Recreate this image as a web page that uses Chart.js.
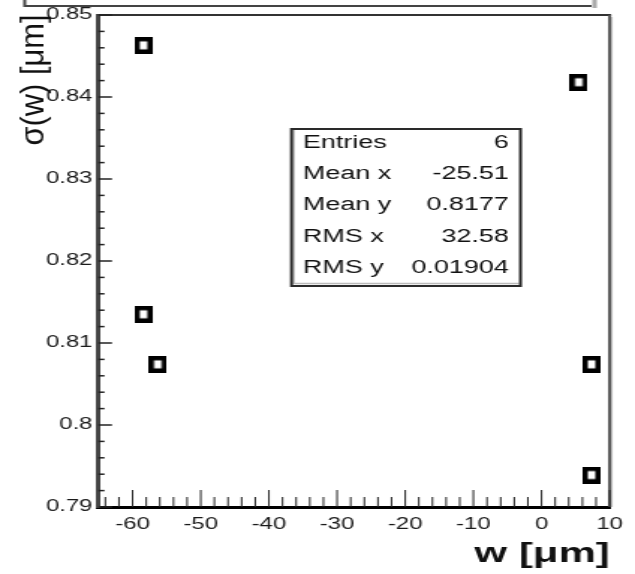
<!DOCTYPE html>
<html>
<head>
<meta charset="utf-8">
<script src="https://cdn.jsdelivr.net/npm/chart.js@4.4.0/dist/chart.umd.min.js"></script>
<style>
  html, body { margin: 0; padding: 0; background: #fff; overflow: hidden; }
  #plot { position: absolute; left: 0; top: 0; width: 424px; height: 574px;
          transform: scaleX(1.4976); transform-origin: 0 0; }
</style>
</head>
<body>
<canvas id="plot" width="424" height="574"></canvas>
<script>
'use strict';
// data
let xTicks = [-60, -50, -40, -30, -20, -10, 0, 10];
let yTicks = [0.79, 0.8, 0.81, 0.82, 0.83, 0.84, 0.85];
let wValues = [-58.4, -58.4, -56.3, 5.46, 7.33, 7.33];
let sigmaValues = [0.8463, 0.8135, 0.8074, 0.8418, 0.8074, 0.7939];
let statLabels = ['Entries', 'Mean x', 'Mean y', 'RMS x', 'RMS y'];
let statValues = ['6', '-25.51', '0.8177', '32.58', '0.01904'];
let xTitle = 'w [\u03bcm]';
let yTitle = '\u03c3(w) [\u03bcm]';

// canvas is stretched sideways by css, like the original picture
let stretch = 635 / 424;
let font = 'Liberation Sans';

// open square marker
function makeMarker(){
  let c = document.createElement('canvas');
  c.width = 12;
  c.height = 17;
  let g = c.getContext('2d');
  g.fillStyle = '#000';
  g.fillRect(0, 0, 12, 17);
  g.fillStyle = '#fff';
  g.fillRect(3.5, 4.5, 5, 8);
  return c;
}

function line(ctx, x1, y1, x2, y2){
  ctx.beginPath();
  ctx.moveTo(x1, y1);
  ctx.lineTo(x2, y2);
  ctx.stroke();
}

//frame, inner ticks, title pieces and stats box
let rootDecor = {
  id: 'rootDecor',
  afterDraw(chart){
    let ctx = chart.ctx;
    let a = chart.chartArea;
    let x = chart.scales.x;
    let y = chart.scales.y;
    ctx.save();

    // top and right frame
    ctx.strokeStyle = '#333';
    ctx.lineWidth = 2;
    line(ctx, a.left, a.top, a.right + 1, a.top);
    ctx.strokeStyle = '#555';
    line(ctx, a.right, a.top, a.right, a.bottom);
    ctx.strokeStyle = '#bbb';
    ctx.lineWidth = 1;
    line(ctx, a.right + 1.5, a.top + 2, a.right + 1.5, a.bottom);

    // ticks pointing inwards
    ctx.strokeStyle = '#222';
    ctx.lineWidth = 1;
    for(let v = -64; v <= 10; v += 2){
      let px = x.getPixelForValue(v);
      let len = v % 10 === 0 ? 17 : 10;
      line(ctx, px, a.bottom, px, a.bottom - len);
    }
    ctx.lineWidth = 1.5;
    for(let i = 0; i <= 30; i++){
      let py = y.getPixelForValue(0.79 + i * 0.002);
      let len = i % 5 === 0 ? 9 : 4;
      line(ctx, a.left, py, a.left + len, py);
    }

    // bit of the title pave cut off at the top
    ctx.strokeStyle = '#444';
    ctx.lineWidth = 2;
    line(ctx, 16.5, 6, 395, 6);
    line(ctx, 16.5, 0, 16.5, 7);
    ctx.fillStyle = '#aaa';
    ctx.fillRect(395.5, 0, 3, 8);

    // y title, rotated
    ctx.save();
    ctx.fillStyle = '#111';
    ctx.font = '22px "' + font + '"';
    ctx.translate(22.5, 80);
    ctx.rotate(-Math.PI / 2);
    let w = ctx.measureText(yTitle).width;
    ctx.scale(131 / w, 1);
    ctx.textAlign = 'center';
    ctx.textBaseline = 'middle';
    ctx.fillText(yTitle, 0, 0);
    ctx.restore();

    // stats box
    let bx1 = 290 / stretch;
    let bx2 = 522 / stretch;
    let by1 = 128;
    let by2 = 287;
    ctx.fillStyle = '#fff';
    ctx.fillRect(bx1, by1, bx2 - bx1, by2 - by1);
    ctx.strokeStyle = '#bbb';
    ctx.lineWidth = 1.5;
    line(ctx, bx1 + 2.5, by1 + 2, bx1 + 2.5, by2 - 3);
    line(ctx, bx1 + 2, by2 - 3.5, bx2 - 2, by2 - 3.5);
    ctx.strokeStyle = '#2a2a2a';
    ctx.lineWidth = 2;
    ctx.strokeRect(bx1 + 1, by1 + 1, bx2 - bx1 - 2, by2 - by1 - 2);
    ctx.fillStyle = '#111';
    ctx.font = '18px "' + font + '"';
    ctx.textBaseline = 'middle';
    for(let i = 0; i < statLabels.length; i++){
      let ty = 143 + i * 31.2;
      ctx.textAlign = 'left';
      ctx.fillText(statLabels[i], 303 / stretch, ty);
      ctx.textAlign = 'right';
      ctx.fillText(statValues[i], 509 / stretch, ty);
    }
    ctx.restore();
  }
};

let points = [];
for(let i = 0; i < wValues.length; i++){
  points.push({x: wValues[i], y: sigmaValues[i]});
}

new Chart(document.getElementById('plot'), {
  type: 'scatter',
  data: {
    datasets: [{
      data: points,
      pointStyle: makeMarker(),
      pointRadius: 8,
      showLine: false
    }]
  },
  options: {
    responsive: false,
    animation: false,
    devicePixelRatio: 1,
    layout: { padding: { left: 0, right: 10, top: 15, bottom: 0 } },
    plugins: { legend: { display: false }, tooltip: { enabled: false } },
    scales: {
      x: {
        type: 'linear',
        min: -65,
        max: 10,
        afterBuildTicks: s => { s.ticks = xTicks.map(v => ({value: v})); },
        afterFit: s => { s.height = 67; },
        grid: { display: false, drawTicks: false },
        border: { color: '#000', width: 3 },
        ticks: {
          padding: 8,
          color: '#1a1a1a',
          font: { family: font, size: 16 },
          maxRotation: 0
        },
        title: {
          display: true,
          text: xTitle,
          align: 'end',
          color: '#111',
          font: { family: font, size: 28, weight: 'bold' },
          padding: { top: 0, bottom: 3 }
        }
      },
      y: {
        type: 'linear',
        min: 0.79,
        max: 0.85,
        afterBuildTicks: s => { s.ticks = yTicks.map(v => ({value: v})); },
        afterFit: s => { s.width = 98.5 / stretch; },
        grid: { display: false, drawTicks: false },
        border: { color: '#444', width: 3 },
        ticks: {
          padding: 4,
          color: '#1a1a1a',
          font: { family: font, size: 16 },
          callback: v => String(Number(v.toFixed(3)))
        }
      }
    }
  },
  plugins: [rootDecor]
});
</script>
</body>
</html>
